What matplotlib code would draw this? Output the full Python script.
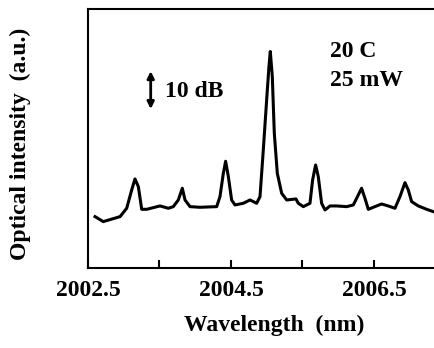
import matplotlib.pyplot as plt

# spectrum (wavelength in nm, intensity in dB, arbitrary offset)
wavelength = [2002.598, 2002.714, 2002.948, 2003.041, 2003.111, 2003.157, 2003.204, 2003.251,
              2003.321, 2003.507, 2003.624, 2003.693, 2003.763, 2003.819, 2003.857, 2003.927,
              2004.066, 2004.300, 2004.346, 2004.393, 2004.425, 2004.463, 2004.509, 2004.556,
              2004.672, 2004.766, 2004.859, 2004.906, 2004.952, 2004.999, 2005.031, 2005.050,
              2005.078, 2005.106, 2005.148, 2005.209, 2005.279, 2005.409, 2005.442, 2005.512,
              2005.605, 2005.642, 2005.684, 2005.721, 2005.768, 2005.815, 2005.885, 2005.978,
              2006.118, 2006.211, 2006.281, 2006.327, 2006.374, 2006.421, 2006.491, 2006.607,
              2006.700, 2006.794, 2006.864, 2006.934, 2006.980, 2007.027, 2007.120, 2007.237,
              2007.330]
intensity = [11.94, 10.78, 11.94, 13.88, 18.14, 20.70, 18.91, 13.64,
             13.64, 14.42, 13.88, 14.26, 15.81, 18.53, 15.81, 14.26,
             14.11, 14.26, 16.59, 22.02, 24.81, 21.24, 15.81, 14.65,
             15.04, 15.81, 15.04, 16.59, 27.44, 39.07, 46.82, 50.31,
             44.50, 31.32, 22.02, 17.36, 15.81, 16.05, 15.04, 14.26,
             15.04, 20.47, 23.95, 21.24, 15.04, 13.49, 14.42, 14.42,
             14.26, 14.65, 16.98, 18.53, 16.20, 13.64, 14.11, 14.88,
             14.42, 13.88, 16.59, 19.84, 18.14, 15.43, 14.42, 13.64,
             13.10]

major_ticks = [2002.5, 2004.5, 2006.5]
minor_ticks = [2003.5, 2005.5]

plt.rcParams['font.family'] = ['Liberation Serif', 'DejaVu Serif']
plt.rcParams['font.weight'] = 'bold'
fs = 17

fig = plt.figure(figsize=(4.34, 3.48), dpi=100)
ax = fig.add_axes([0.2028, 0.2299, 0.7972, 0.7443])

ax.plot(wavelength, intensity, color='black', lw=2.2, solid_joinstyle='round')

ax.set_xlim(2002.5, 2007.34)
ax.set_ylim(0, 60.2)
ax.set_xticks(major_ticks)
ax.set_xticks(minor_ticks, minor=True)
ax.set_xticklabels(['2002.5', '2004.5', '2006.5'], fontsize=fs, fontweight='bold')
ax.tick_params(axis='x', which='both', direction='in', length=6, width=1.5, pad=9)
ax.set_yticks([])

for s in ['left', 'bottom', 'top']:
    ax.spines[s].set_linewidth(1.5)
ax.spines['right'].set_visible(False)

ax.set_xlabel('Wavelength  (nm)', fontsize=fs, fontweight='bold', va='center')
ax.xaxis.set_label_coords(0.537, -0.22)
ax.set_ylabel('Optical intensity  (a.u.)', fontsize=fs, fontweight='bold', va='center')
ax.yaxis.set_label_coords(-0.195, 0.48)

# 10 dB scale arrow
ax.annotate('', xy=(2003.377, 36.3), xytext=(2003.377, 46.4),
            arrowprops=dict(arrowstyle='<|-|>', color='black', lw=2, mutation_scale=10))
ax.text(2003.58, 41.0, '10 dB', fontsize=fs, fontweight='bold', va='center')
ax.text(2005.88, 50.3, '20 C', fontsize=fs, fontweight='bold', va='center')
ax.text(2005.88, 43.6, '25 mW', fontsize=fs, fontweight='bold', va='center')

fig.savefig('out.png', dpi=100)
